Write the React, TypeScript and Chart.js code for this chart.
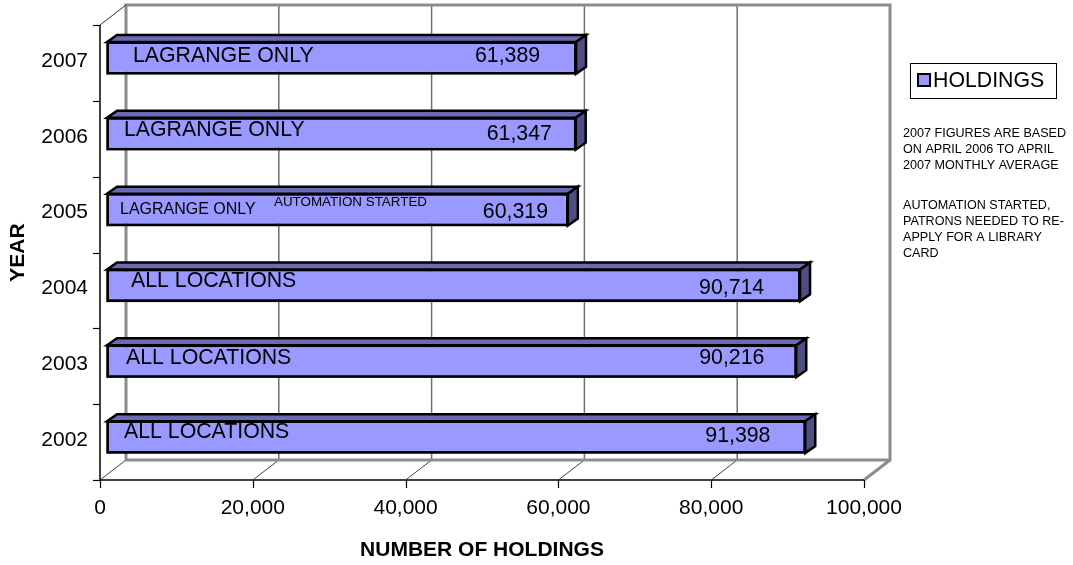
import React, { useEffect, useRef } from 'react';
import { Chart, registerables } from 'chart.js';

Chart.register(...registerables);

// ---------- data ----------
const years = ['2002', '2003', '2004', '2005', '2006', '2007'];
const holdings = [91398, 90216, 90714, 60319, 61347, 61389];
const barNotes = ['ALL LOCATIONS', 'ALL LOCATIONS', 'ALL LOCATIONS', 'LAGRANGE ONLY', 'LAGRANGE ONLY', 'LAGRANGE ONLY'];
const extraNotes = ['', '', '', 'AUTOMATION STARTED', '', ''];
const xTicks = [0, 20000, 40000, 60000, 80000, 100000];
const seriesName = 'HOLDINGS';
const xTitle = 'NUMBER OF HOLDINGS';
const yTitle = 'YEAR';
const sideNoteA = ['2007 FIGURES ARE BASED', 'ON APRIL 2006 TO APRIL', '2007 MONTHLY AVERAGE'];
const sideNoteB = ['AUTOMATION STARTED,', 'PATRONS NEEDED TO RE-', 'APPLY FOR A LIBRARY', 'CARD'];

// ---------- layout / style ----------
const FONT = '"Liberation Sans", Arial, Helvetica, sans-serif';
const W = 1073;
const H = 565;
const DEPTH = { x: 26, y: -20 };
const BAR_SHIFT = { x: 7, y: -5 };
const BAR_DEPTH = { x: 10, y: -7 };
const BAR_FRONT = '#9999FF';
const BAR_TOP = '#6B6BB5';
const BAR_SIDE = '#4E4E84';
// per-row label placement (pixel nudges relative to the bar), in year order
const noteLayout = [
  { dx: 17, dy: -5, size: 21.3, vdx: -100, vdy: -1 },
  { dx: 19, dy: -3, size: 21.3, vdx: -97, vdy: -3 },
  { dx: 24, dy: -4, size: 21.3, vdx: -101, vdy: 3 },
  { dx: 13, dy: 0, size: 16, vdx: -85, vdy: 3, ex: 167, edy: -7, esize: 13.4 },
  { dx: 17, dy: -4, size: 21.3, vdx: -89, vdy: 0 },
  { dx: 26, dy: -2, size: 21.3, vdx: -101, vdy: -2 },
];

const fmt = (v: number) => v.toLocaleString('en-US');

const excel3d = {
  id: 'excel3d',
  beforeDatasetsDraw(chart: any) {
    const { ctx, chartArea: a, scales } = chart;
    const xs = scales.x;
    const ys = scales.y;
    const bl = a.left + DEPTH.x;
    const bt = a.top + DEPTH.y;
    const br = a.right + DEPTH.x;
    const bb = a.bottom + DEPTH.y;
    ctx.save();
    ctx.lineCap = 'butt';
    // back-wall grid lines and floor diagonals
    for (const v of xTicks) {
      const fx = xs.getPixelForValue(v);
      const bx = fx + DEPTH.x;
      if (v !== xTicks[0] && v !== xTicks[xTicks.length - 1]) {
        ctx.strokeStyle = '#707070';
        ctx.lineWidth = 1.5;
        ctx.beginPath();
        ctx.moveTo(bx, bt);
        ctx.lineTo(bx, bb);
        ctx.stroke();
      }
      if (v !== xTicks[xTicks.length - 1]) {
        ctx.strokeStyle = '#404040';
        ctx.lineWidth = 1;
        ctx.beginPath();
        ctx.moveTo(fx, a.bottom);
        ctx.lineTo(bx, bb);
        ctx.stroke();
      }
    }
    // wall outlines
    ctx.strokeStyle = '#8C8C8C';
    ctx.lineWidth = 3;
    ctx.strokeRect(bl, bt, br - bl, bb - bt);
    ctx.beginPath();
    ctx.moveTo(a.right, a.bottom);
    ctx.lineTo(br, bb);
    ctx.stroke();
    // left-wall top diagonal
    ctx.strokeStyle = '#303030';
    ctx.lineWidth = 1;
    ctx.beginPath();
    ctx.moveTo(a.left, a.top);
    ctx.lineTo(bl, bt);
    ctx.stroke();
    // front axes
    ctx.strokeStyle = '#404040';
    ctx.lineWidth = 2;
    ctx.beginPath();
    ctx.moveTo(a.left, a.bottom);
    ctx.lineTo(a.right, a.bottom);
    ctx.stroke();
    ctx.strokeStyle = '#000';
    ctx.lineWidth = 1.5;
    ctx.beginPath();
    ctx.moveTo(a.left, a.top);
    ctx.lineTo(a.left, a.bottom);
    ctx.stroke();
    // x ticks
    ctx.lineWidth = 1.2;
    for (const v of xTicks) {
      const fx = Math.round(xs.getPixelForValue(v)) + 0.5;
      ctx.beginPath();
      ctx.moveTo(fx, a.bottom);
      ctx.lineTo(fx, a.bottom + 8);
      ctx.stroke();
    }
    // y ticks at category boundaries
    const n = years.length;
    const step = (a.bottom - a.top) / n;
    for (let i = 0; i <= n; i++) {
      const y = Math.round(a.top + i * step) + 0.5;
      ctx.beginPath();
      ctx.moveTo(a.left - 7, y);
      ctx.lineTo(a.left, y);
      ctx.stroke();
    }
    // tick labels
    ctx.fillStyle = '#000';
    ctx.font = `21px ${FONT}`;
    ctx.textAlign = 'center';
    ctx.textBaseline = 'middle';
    for (const v of xTicks) {
      ctx.fillText(fmt(v), xs.getPixelForValue(v), a.bottom + 28);
    }
    ctx.textAlign = 'right';
    years.forEach((yr, i) => {
      ctx.fillText(yr, a.left - 12, ys.getPixelForValue(i) - 2);
    });
    // axis titles
    ctx.font = `bold 21px ${FONT}`;
    ctx.textAlign = 'center';
    ctx.fillText(xTitle, (a.left + a.right) / 2, 550);
    ctx.save();
    ctx.translate(18, (a.top + a.bottom) / 2 + 0);
    ctx.rotate(-Math.PI / 2);
    ctx.fillText(yTitle, 0, 0);
    ctx.restore();
    ctx.restore();
    // shift the bar fronts to their depth position
    ctx.save();
    ctx.translate(BAR_SHIFT.x, BAR_SHIFT.y);
  },
  afterDatasetsDraw(chart: any) {
    const { ctx, scales } = chart;
    ctx.restore();
    const xs = scales.x;
    const meta = chart.getDatasetMeta(0);
    ctx.save();
    ctx.lineJoin = 'miter';
    meta.data.forEach((el: any, i: number) => {
      const p = el.getProps(['x', 'y', 'base', 'height'], true);
      const left = p.base + BAR_SHIFT.x;
      const right = p.x + BAR_SHIFT.x;
      const top = p.y - p.height / 2 + BAR_SHIFT.y;
      const bottom = p.y + p.height / 2 + BAR_SHIFT.y;
      ctx.lineWidth = 2.5;
      ctx.strokeStyle = '#000';
      // front outline (slightly heavier like the reference)
      ctx.strokeRect(left + 0.5, top + 0.5, right - left - 1, bottom - top - 1);
      // top face
      ctx.beginPath();
      ctx.moveTo(left, top);
      ctx.lineTo(left + BAR_DEPTH.x, top + BAR_DEPTH.y);
      ctx.lineTo(right + BAR_DEPTH.x, top + BAR_DEPTH.y);
      ctx.lineTo(right, top);
      ctx.closePath();
      ctx.fillStyle = BAR_TOP;
      ctx.fill();
      ctx.stroke();
      // side face
      ctx.beginPath();
      ctx.moveTo(right, top);
      ctx.lineTo(right + BAR_DEPTH.x, top + BAR_DEPTH.y);
      ctx.lineTo(right + BAR_DEPTH.x, bottom + BAR_DEPTH.y);
      ctx.lineTo(right, bottom);
      ctx.closePath();
      ctx.fillStyle = BAR_SIDE;
      ctx.fill();
      ctx.stroke();
      // labels
      const L = noteLayout[i];
      const cy = (top + bottom) / 2;
      const x0 = xs.getPixelForValue(0) + BAR_SHIFT.x;
      ctx.fillStyle = '#000';
      ctx.textBaseline = 'middle';
      ctx.textAlign = 'left';
      ctx.font = `${L.size}px ${FONT}`;
      ctx.fillText(barNotes[i], x0 + L.dx, cy + L.dy);
      if (extraNotes[i]) {
        ctx.font = `${L.esize}px ${FONT}`;
        ctx.fillText(extraNotes[i], x0 + (L.ex || 0), cy + (L.edy || 0));
      }
      ctx.font = `21.3px ${FONT}`;
      ctx.fillText(fmt(holdings[i]), right + L.vdx, cy + L.vdy);
    });
    ctx.restore();
  },
  afterDraw(chart: any) {
    const { ctx } = chart;
    ctx.save();
    // legend
    ctx.strokeStyle = '#000';
    ctx.lineWidth = 1;
    ctx.strokeRect(910.5, 63.5, 146, 35);
    ctx.fillStyle = BAR_FRONT;
    ctx.fillRect(918, 74, 12, 12);
    ctx.lineWidth = 2;
    ctx.strokeRect(918, 74, 12, 12);
    ctx.fillStyle = '#000';
    ctx.font = `21.3px ${FONT}`;
    ctx.textAlign = 'left';
    ctx.textBaseline = 'middle';
    ctx.fillText(seriesName, 933, 81);
    // side notes
    ctx.font = `12.6px ${FONT}`;
    sideNoteA.forEach((t, i) => ctx.fillText(t, 903, 134 + i * 16));
    sideNoteB.forEach((t, i) => ctx.fillText(t, 903, 206 + i * 16));
    ctx.restore();
  },
};

export default function App() {
  const ref = useRef<HTMLCanvasElement | null>(null);
  useEffect(() => {
    if (!ref.current) return;
    const chart = new Chart(ref.current, {
      type: 'bar',
      data: {
        labels: years,
        datasets: [
          {
            label: seriesName,
            data: holdings,
            backgroundColor: BAR_FRONT,
            borderColor: '#000',
            borderWidth: 2,
            borderSkipped: false,
            barPercentage: 0.42,
            categoryPercentage: 1,
          },
        ],
      },
      options: {
        indexAxis: 'y',
        animation: false,
        responsive: false,
        maintainAspectRatio: false,
        layout: { padding: { left: 100, right: W - 864, top: 25, bottom: H - 480 } },
        scales: {
          x: { type: 'linear', min: 0, max: 100000, display: false },
          y: { type: 'category', reverse: true, display: false },
        },
        plugins: { legend: { display: false }, tooltip: { enabled: false } },
      },
      plugins: [excel3d],
    } as any);
    return () => chart.destroy();
  }, []);
  return (
    <div style={{ position: 'absolute', left: 0, top: 0, width: W, height: H, background: '#fff' }}>
      <canvas ref={ref} width={W} height={H} style={{ display: 'block', width: W, height: H }} />
    </div>
  );
}
